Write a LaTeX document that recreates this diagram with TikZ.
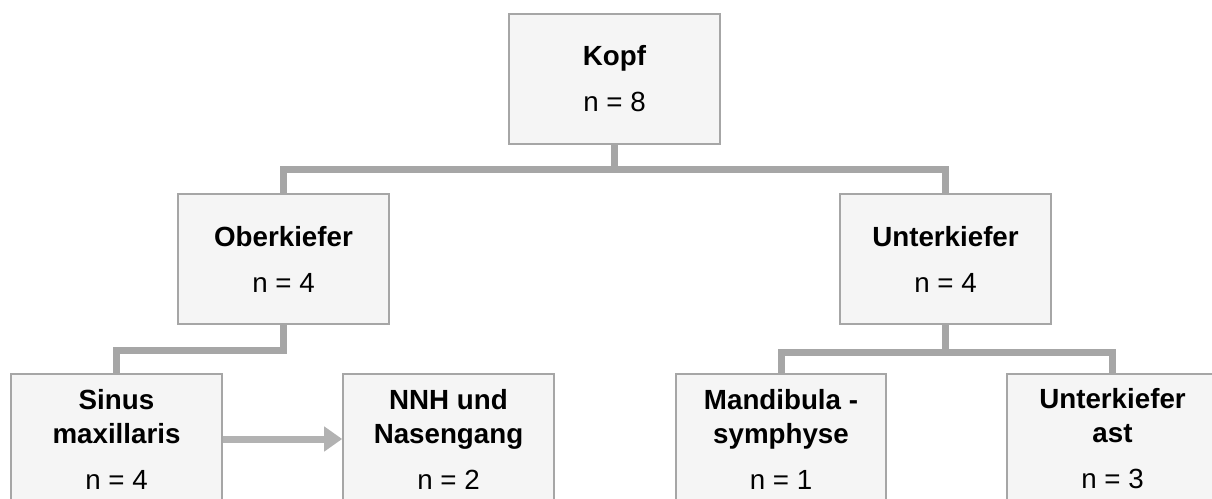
\documentclass[tikz,border=0pt]{standalone}
\usepackage{fontspec}
\setmainfont{Liberation Sans}
\usetikzlibrary{arrows.meta}
\tikzset{
  box/.style={draw=black!35, line width=1.5pt, fill=black!4, anchor=north,
    minimum width=158pt, minimum height=97.5pt, inner sep=0pt, align=center,
    font=\fontsize{20.8}{25.5}\selectfont},
  conn/.style={draw=black!35, line width=5.25pt},
  arrowconn/.style={draw=black!30, line width=5.25pt, -{Triangle[length=13.5pt,width=18pt]}},
}
\begin{document}
\begin{tikzpicture}[x=0.75pt,y=-0.75pt]
    \useasboundingbox (0,0) rectangle (1212,499);
    \node[box] (kopf) at (614.5,13) {\textbf{Kopf}\\[9pt]n = 8};
    \node[box] (ober) at (283.5,193) {\textbf{Oberkiefer}\\[9pt]n = 4};
    \node[box] (unter) at (945.5,193) {\textbf{Unterkiefer}\\[9pt]n = 4};
    \node[box] (sinus) at (116.5,373) {\textbf{Sinus}\\\textbf{maxillaris}\\[9pt]n = 4};
    \node[box] (nnh) at (448.5,373) {\textbf{NNH und}\\\textbf{Nasengang}\\[9pt]n = 2};
    \node[box] (mand) at (781,373) {\textbf{Mandibula -}\\\textbf{symphyse}\\[9pt]n = 1};
    \node[box] (ast) at (1112.5,373) {\textbf{Unterkiefer}\\\textbf{ast}\\[9pt]n = 3};
    % tree
    \draw[conn] (kopf.south) -- ++(0,24) -| (ober.north);
    \draw[conn] (kopf.south) -- ++(0,24) -| (unter.north);
    \draw[conn] (ober.south) -- ++(0,25) -| (sinus.north);
    \draw[conn] (unter.south) -- ++(0,27) -| (mand.north);
    \draw[conn] (unter.south) -- ++(0,27) -| (ast.north);
    \draw[arrowconn] (sinus.east) -- (nnh.west);
\end{tikzpicture}
\end{document}
